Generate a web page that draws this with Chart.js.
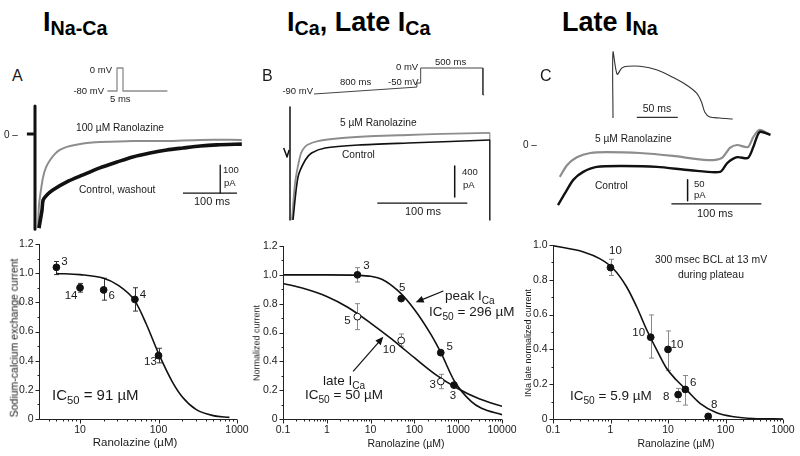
<!DOCTYPE html>
<html>
<head>
<meta charset="utf-8">
<script src="https://cdn.jsdelivr.net/npm/chart.js@4.4.1/dist/chart.umd.min.js"></script>
<style>
body { margin: 0; background: #fff; }
#fig { position: relative; width: 800px; height: 456px; overflow: hidden; background: #fff;
  font-family: "Liberation Sans", Arial, Helvetica, sans-serif; color: #1a1a1a; }
#fig canvas { position: absolute; }
.t { position: absolute; white-space: nowrap; line-height: 1; }
.s { font-size: 0.73em; vertical-align: -0.22em; }
.ss { font-size: 0.75em; vertical-align: -0.35em; }
</style>
</head>
<body>
<div id="fig"></div>
<script>
// ---- A: Na/Ca exchange current (time in ms, current in pA) ----
const aProtoT = [-8, 0, 0, 5, 5, 42];
const aProtoV = [-80, -80, 0, 0, -80, -80];
const aRanoT = [5.6, 7.4, 11, 15, 20, 28, 37, 46, 59, 74, 96, 120, 181, 244, 306, 383];
const aRanoI = [-336, -254, -200, -154, -121, -93, -71, -57, -46, -39, -32, -29, -25, -25, -21, -21];
const aCtrlT = [7.4, 9.3, 13, 15, 22, 33, 59, 89, 120, 152, 181, 213, 244, 274, 306, 337, 383];
const aCtrlI = [-336, -314, -271, -236, -218, -200, -171, -146, -121, -100, -82, -68, -57, -50, -43, -39, -36];
const aPreT = [-15, -2];
const aPreI = [0, 0];
const aArtT = [0, 0];
const aArtI = [100, -340];
const aVBarT = [343, 343];
const aVBarI = [-111, -211];
const aHBarT = [274, 374];
const aHBarI = [-211, -211];

// ---- B: ICa ----
const bProtoT = [0, 810, 810, 840, 840, 1330, 1330, 1340];
const bProtoV = [-90, -66, -52, -52, 0, 0, -93, -93];
const bPreT = [-7, -3.3, -1];
const bPreI = [0, -116, -26];
const bArtT = [0, 0];
const bArtI = [529, -929];
const bRanoT = [2.2, 5.6, 11, 14, 19, 31, 58, 94, 131, 169, 222];
const bRanoI = [-929, -452, -116, -26, 39, 90, 129, 155, 168, 181, 194];
const bCtrlT = [3.3, 8.9, 17, 24, 39, 76, 131, 178, 222];
const bCtrlI = [-929, -374, -155, -65, 0, 39, 65, 84, 103];
const bRanoDropT = [222, 222];
const bRanoDropI = [194, -929];
const bCtrlDropT = [222, 222];
const bCtrlDropI = [103, -929];
const bVBarT = [183, 183];
const bVBarI = [-232, -632];
const bHBarT = [97, 197];
const bHBarI = [-710, -710];

// ---- C: late INa ----
const cApT = [0, 0, 5, 11, 18, 33, 54, 73, 90, 102, 108, 112, 118, 130, 146];
const cApV = [-85, 40, -2, 10, 13, 13, 6, -8, -23, -38, -55, -74, -83, -85, -87];
const cApBarT = [29, 79];
const cApBarV = [-84, -84];
const cRanoT = [2, 10, 21, 36, 54, 91, 128, 166, 182, 191, 199, 211, 217, 224, 236];
const cRanoI = [-76, -48, -29, -19, -17, -19, -26, -36, -31, -7, 0, -5, 19, 36, 24];
const cCtrlT = [0, 8, 17, 28, 43, 72, 110, 147, 180, 188, 199, 211, 217, 224, 236];
const cCtrlI = [-143, -114, -83, -64, -52, -50, -52, -60, -64, -43, -29, -31, -5, 31, 24];
const cVBarT = [144, 144];
const cVBarI = [-83, -133];
const cHBarT = [126, 226];
const cHBarI = [-140, -140];

// ---- dose-response data (Ranolazine, uM) ----
const ncxConc = [5, 10, 20, 50, 100];
const ncxMean = [1.04, 0.90, 0.885, 0.82, 0.435];
const ncxLo = [0.99, 0.87, 0.815, 0.74, 0.385];
const ncxHi = [1.08, 0.93, 0.965, 0.90, 0.485];
const ncxN = ['3', '14', '6', '4', '13'];
const ncxFitX = [5, 10, 20, 30, 50, 70, 100, 150, 200, 300, 500, 800];
const ncxFitY = [0.998, 0.99, 0.965, 0.92, 0.81, 0.65, 0.45, 0.255, 0.153, 0.066, 0.023, 0.011];

const peakConc = [5, 50, 400, 800];
const peakMean = [1.0, 0.835, 0.46, 0.235];
const peakLo = [0.95, null, null, null];
const peakHi = [1.05, null, null, null];
const peakN = ['3', '5', '5', '3'];
const lateConc = [5, 50, 400];
const lateMean = [0.71, 0.545, 0.26];
const lateLo = [0.62, 0.505, 0.21];
const lateHi = [0.80, 0.59, 0.31];
const lateN = ['5', '10', '3'];
const peakFitX = [0.1, 1, 5, 10, 18, 42, 100, 240, 410, 830, 2000, 3400, 10000];
const peakFitY = [1.0, 1.0, 0.997, 0.99, 0.97, 0.89, 0.76, 0.585, 0.455, 0.26, 0.12, 0.074, 0.03];
const lateFitX = [0.1, 0.3, 1, 3, 10, 30, 50, 100, 300, 1000, 3000, 10000];
const lateFitY = [0.94, 0.905, 0.85, 0.775, 0.665, 0.555, 0.50, 0.425, 0.31, 0.21, 0.14, 0.088];

const inaConc = [1, 5, 10, 15, 20, 50];
const inaMean = [0.87, 0.47, 0.40, 0.14, 0.17, 0.015];
const inaLo = [0.825, 0.35, 0.28, 0.10, 0.08, 0.0];
const inaHi = [0.918, 0.598, 0.506, 0.176, 0.25, 0.03];
const inaN = ['10', '10', '10', '8', '6', '8'];
const inaFitX = [0.1, 0.34, 0.66, 1.1, 1.9, 2.85, 4.3, 6.3, 9.5, 14, 21, 36, 70, 140, 300, 1000];
const inaFitY = [0.996, 0.96, 0.92, 0.866, 0.76, 0.645, 0.51, 0.40, 0.29, 0.224, 0.167, 0.09, 0.036, 0.013, 0.003, 0];

// tick labels
const yTicks12 = [0, 0.2, 0.4, 0.6, 0.8, 1.0, 1.2];
const yLabels12 = ['0', '0.2', '0.4', '0.6', '0.8', '1.0', '1.2'];
const yTicks10 = [0, 0.2, 0.4, 0.6, 0.8, 1.0];
const yLabels10 = ['0', '0.2', '0.4', '0.6', '0.8', '1.0'];
const ncxXTicks = [10, 100, 1000];
const ncxXLabels = ['10', '100', '1000'];
const caXTicks = [0.1, 1, 10, 100, 1000, 10000];
const caXLabels = ['0.1', '1', '10', '100', '1000', '10000'];
const inaXTicks = [0.1, 1, 10, 100, 1000];
const inaXLabels = ['0.1', '1', '10', '100', '1000'];

// label placement (pixels from point) and arrows (data units)
const ncxNOff = [[8, -6], [-9, 8], [8, 6], [8, -5], [-8, 6]];
const peakNOff = [[9, -9], [1, -11], [9, -6], [-1, 11]];
const lateNOff = [[-10, 4], [-12, 9], [-8, 3]];
const inaNOff = [[5, -17], [-12, -4], [9, -5], [-12, 2], [8, -7], [6, -12]];
const caArrows = [{from: [457, 0.888], to: [107, 0.81]}, {from: [4.0, 0.33], to: [19.5, 0.57]}];

const FONT = '"Liberation Sans", Arial, Helvetica, sans-serif';
const GRAY = '#8d8d8d';
const INK = '#111';
const fig = document.getElementById('fig');

function makeCanvas(l, t, w, h) {
  const c = document.createElement('canvas');
  c.width = w; c.height = h;
  c.style.left = l + 'px'; c.style.top = t + 'px';
  c.style.width = w + 'px'; c.style.height = h + 'px';
  fig.appendChild(c);
  return c;
}

function pts(xs, ys) {
  return xs.map((v, i) => ({x: v, y: ys[i]}));
}

function line(xs, ys, color, width, tension) {
  return {data: pts(xs, ys), borderColor: color, borderWidth: width, showLine: true,
    pointRadius: 0, tension: tension || 0, borderJoinStyle: 'round'};
}

// xCal / yCal: [page pixel of zero, pixels per unit]
function traceChart(l, t, w, h, xCal, yCal, datasets) {
  const c = makeCanvas(l, t, w, h);
  return new Chart(c, {
    type: 'scatter',
    data: {datasets: datasets},
    options: {
      responsive: false, animation: false, events: [],
      layout: {padding: 0},
      plugins: {legend: {display: false}, tooltip: {enabled: false}},
      scales: {
        x: {type: 'linear', display: false, min: (l - xCal[0]) / xCal[1], max: (l + w - xCal[0]) / xCal[1]},
        y: {type: 'linear', display: false, min: (yCal[0] - t - h) / yCal[1], max: (yCal[0] - t) / yCal[1]}
      }
    }
  });
}

function axesPlugin(cfg) {
  return {
    id: 'sciAxes',
    beforeDatasetsDraw(chart) {
      const ctx = chart.ctx, x = chart.scales.x, y = chart.scales.y;
      ctx.save();
      ctx.lineWidth = 1;
      chart.data.datasets.forEach(ds => {
        if (!ds.errLo) return;
        ctx.strokeStyle = ds.errColor;
        ds.data.forEach((p, i) => {
          if (ds.errLo[i] == null) return;
          const px = Math.round(x.getPixelForValue(p.x)) + 0.5;
          const y1 = y.getPixelForValue(ds.errLo[i]);
          const y2 = y.getPixelForValue(ds.errHi[i]);
          ctx.beginPath();
          ctx.moveTo(px, y1); ctx.lineTo(px, y2);
          ctx.moveTo(px - 2.5, y1); ctx.lineTo(px + 2.5, y1);
          ctx.moveTo(px - 2.5, y2); ctx.lineTo(px + 2.5, y2);
          ctx.stroke();
        });
      });
      ctx.restore();
    },
    afterDatasetsDraw(chart) {
      const ctx = chart.ctx, x = chart.scales.x, y = chart.scales.y;
      ctx.save();
      ctx.fillStyle = '#1a1a1a';
      ctx.font = '11.5px ' + FONT;
      ctx.textAlign = 'center';
      ctx.textBaseline = 'middle';
      chart.data.datasets.forEach(ds => {
        if (!ds.nLabels) return;
        ds.data.forEach((p, i) => {
          ctx.fillText(ds.nLabels[i], x.getPixelForValue(p.x) + ds.nOffsets[i][0],
            y.getPixelForValue(p.y) + ds.nOffsets[i][1]);
        });
      });
      (cfg.arrows || []).forEach(a => {
        const x0 = x.getPixelForValue(a.from[0]), y0 = y.getPixelForValue(a.from[1]);
        const x1 = x.getPixelForValue(a.to[0]), y1 = y.getPixelForValue(a.to[1]);
        const ang = Math.atan2(y1 - y0, x1 - x0);
        const c = Math.cos(ang), s = Math.sin(ang);
        ctx.strokeStyle = INK; ctx.fillStyle = INK; ctx.lineWidth = 1.2;
        ctx.beginPath(); ctx.moveTo(x0, y0);
        ctx.lineTo(x1 - 5 * c, y1 - 5 * s); ctx.stroke();
        ctx.beginPath();
        ctx.moveTo(x1, y1);
        ctx.lineTo(x1 - 8 * c + 3.5 * s, y1 - 8 * s - 3.5 * c);
        ctx.lineTo(x1 - 8 * c - 3.5 * s, y1 - 8 * s + 3.5 * c);
        ctx.closePath(); ctx.fill();
      });
      ctx.restore();
    },
    afterDraw(chart) {
      const ctx = chart.ctx, a = chart.chartArea, x = chart.scales.x, y = chart.scales.y;
      const L = Math.round(a.left) + 0.5, B = Math.round(a.bottom) + 0.5;
      ctx.save();
      ctx.strokeStyle = '#222';
      ctx.lineWidth = 1;
      ctx.beginPath();
      ctx.moveTo(L, a.top); ctx.lineTo(L, B); ctx.lineTo(a.right, B);
      cfg.yTicks.forEach(v => {
        const py = Math.round(y.getPixelForValue(v)) + 0.5;
        ctx.moveTo(L - 4, py); ctx.lineTo(L, py);
      });
      for (let v = y.min + 0.1; v < y.max; v += 0.2) {
        const py = Math.round(y.getPixelForValue(v)) + 0.5;
        ctx.moveTo(L - 2, py); ctx.lineTo(L, py);
      }
      cfg.xTicks.forEach(v => {
        const px = Math.round(x.getPixelForValue(v)) + 0.5;
        ctx.moveTo(px, B); ctx.lineTo(px, B + 4);
      });
      const d0 = Math.floor(Math.log10(x.min)), d1 = Math.ceil(Math.log10(x.max));
      for (let d = d0; d < d1; d++) {
        for (let m = 2; m <= 9; m++) {
          const v = m * Math.pow(10, d);
          if (v <= x.min * 1.001 || v >= x.max) continue;
          const px = Math.round(x.getPixelForValue(v)) + 0.5;
          ctx.moveTo(px, B); ctx.lineTo(px, B + 2);
        }
      }
      ctx.stroke();
      ctx.fillStyle = '#1a1a1a';
      ctx.font = '10.5px ' + FONT;
      ctx.textAlign = 'right';
      ctx.textBaseline = 'middle';
      cfg.yTicks.forEach((v, i) => ctx.fillText(cfg.yLabels[i], L - 6, y.getPixelForValue(v)));
      ctx.textAlign = 'center';
      ctx.textBaseline = 'top';
      cfg.xTicks.forEach((v, i) => ctx.fillText(cfg.xLabels[i], x.getPixelForValue(v), B + 5));
      ctx.restore();
    }
  };
}

function dots(xs, ys, lo, hi, n, off, fill, errColor) {
  return {data: pts(xs, ys), showLine: false, pointRadius: 3.4, pointBackgroundColor: fill,
    pointBorderColor: INK, pointBorderWidth: 1, order: 0,
    errLo: lo, errHi: hi, errColor: errColor, nLabels: n, nOffsets: off};
}

function fit(xs, ys) {
  return {data: pts(xs, ys), showLine: true, pointRadius: 0, borderColor: INK, borderWidth: 1.6,
    cubicInterpolationMode: 'monotone', order: 1};
}

// area: [left, top, right, bottom] of the plot in page pixels
function doseChart(l, t, w, h, area, xRange, yRange, datasets, cfg) {
  const c = makeCanvas(l, t, w, h);
  return new Chart(c, {
    type: 'scatter',
    data: {datasets: datasets},
    options: {
      responsive: false, animation: false, events: [],
      layout: {padding: {left: area[0] - l, top: area[1] - t, right: l + w - area[2], bottom: t + h - area[3]}},
      plugins: {legend: {display: false}, tooltip: {enabled: false}},
      scales: {
        x: {type: 'logarithmic', display: false, min: xRange[0], max: xRange[1]},
        y: {type: 'linear', display: false, min: yRange[0], max: yRange[1]}
      }
    },
    plugins: [axesPlugin(cfg)]
  });
}

// ---- top row: protocols and current traces ----
traceChart(60, 55, 120, 45, [117, 1.2], [68, 0.2875], [
  line(aProtoT, aProtoV, GRAY, 1.3)
]);
traceChart(0, 100, 265, 132, [35, 0.54], [134, 0.28], [
  line(aVBarT, aVBarI, INK, 1.3),
  line(aHBarT, aHBarI, INK, 1.3),
  line(aArtT, aArtI, INK, 3),
  line(aPreT, aPreI, INK, 3),
  line(aCtrlT, aCtrlI, INK, 3.6, 0.25),
  line(aRanoT, aRanoI, GRAY, 2, 0.25)
]);

traceChart(290, 50, 220, 52, [314, 0.127], [68, 0.289], [
  line(bProtoT, bProtoV, '#444', 1)
]);
traceChart(270, 100, 240, 132, [290, 0.9], [148, 0.0775], [
  line(bVBarT, bVBarI, INK, 1.5),
  line(bHBarT, bHBarI, INK, 1.3),
  line(bArtT, bArtI, INK, 1.5),
  line(bPreT, bPreI, INK, 1.5),
  line(bCtrlDropT, bCtrlDropI, INK, 1.2),
  line(bCtrlT, bCtrlI, INK, 1.6, 0.25),
  line(bRanoDropT, bRanoDropI, GRAY, 1.2),
  line(bRanoT, bRanoI, GRAY, 1.8, 0.25)
]);

traceChart(600, 45, 150, 80, [613, 0.82], [52 + 40 * 0.528, 0.528], [
  line(cApBarT, cApBarV, '#333', 1.2),
  line(cApT, cApV, '#333', 1.1, 0.3)
]);
traceChart(535, 110, 255, 115, [558, 0.9], [145, 0.42], [
  line(cVBarT, cVBarI, INK, 1.5),
  line(cHBarT, cHBarI, INK, 1.3),
  line(cCtrlT, cCtrlI, INK, 2.4, 0.25),
  line(cRanoT, cRanoI, GRAY, 2.2, 0.25)
]);

// ---- bottom row: concentration-response ----
doseChart(0, 232, 260, 224, [39, 244, 237, 419], [3, 1000], [0, 1.2], [
  dots(ncxConc, ncxMean, ncxLo, ncxHi, ncxN, ncxNOff, INK, '#333'),
  fit(ncxFitX, ncxFitY)
], {yTicks: yTicks12, yLabels: yLabels12, xTicks: ncxXTicks, xLabels: ncxXLabels});

doseChart(262, 232, 270, 224, [283, 246, 502, 419], [0.1, 10000], [0, 1.2], [
  dots(peakConc, peakMean, peakLo, peakHi, peakN, peakNOff, INK, '#888'),
  dots(lateConc, lateMean, lateLo, lateHi, lateN, lateNOff, '#fff', '#888'),
  fit(peakFitX, peakFitY),
  fit(lateFitX, lateFitY)
], {yTicks: yTicks12, yLabels: yLabels12, xTicks: caXTicks, xLabels: caXLabels, arrows: caArrows});

doseChart(530, 232, 270, 224, [553, 245, 783, 419], [0.1, 1000], [0, 1.0], [
  dots(inaConc, inaMean, inaLo, inaHi, inaN, inaNOff, INK, '#888'),
  fit(inaFitX, inaFitY)
], {yTicks: yTicks10, yLabels: yLabels10, xTicks: inaXTicks, xLabels: inaXLabels});

// ---- text ----
function txt(html, x, base, size, align, extra) {
  const d = document.createElement('div');
  d.className = 't';
  d.innerHTML = html;
  d.style.fontSize = size + 'px';
  d.style.top = (base - 0.85 * size).toFixed(1) + 'px';
  d.style.left = x + 'px';
  if (align === 'c') d.style.transform = 'translateX(-50%)';
  if (align === 'r') d.style.transform = 'translateX(-100%)';
  if (extra) d.style.cssText += extra;
  fig.appendChild(d);
}

function vtxt(text, cx, cy, size) {
  const d = document.createElement('div');
  d.className = 't';
  d.textContent = text;
  d.style.fontSize = size + 'px';
  d.style.left = cx + 'px';
  d.style.top = cy + 'px';
  d.style.transform = 'translate(-50%, -50%) rotate(-90deg)';
  fig.appendChild(d);
}

const bold = 'font-weight:bold;color:#000;';
txt('I<span class="s">Na-Ca</span>', 43, 32, 27, 'l', bold);
txt('I<span class="s">Ca</span>, Late I<span class="s">Ca</span>', 287, 32, 27, 'l', bold);
txt('Late I<span class="s">Na</span>', 562, 32, 27, 'l', bold);
txt('A', 12, 82, 16);
txt('B', 262, 82, 16);
txt('C', 540, 82, 16);

txt('0 mV', 112, 73, 9.5, 'r');
txt('-80 mV', 104, 94.5, 9.5, 'r');
txt('5 ms', 110, 102.5, 9.5);
txt('0 \u2013', 4, 138, 10);
txt('100 \u00b5M Ranolazine', 76, 131.5, 10.2);
txt('Control, washout', 79, 193.5, 10.2);
txt('100', 223, 173, 9.5);
txt('pA', 224, 186, 9.5);
txt('100 ms', 212, 205, 11, 'c');

txt('-90 mV', 313, 94.5, 9.5, 'r');
txt('800 ms', 340, 85.5, 9.5);
txt('-50 mV', 388, 85.5, 9.5);
txt('0 mV', 396, 70.5, 9.5);
txt('500 ms', 435, 65.5, 9.5);
txt('5 \u00b5M Ranolazine', 340, 126.5, 10.2);
txt('Control', 342, 158.5, 10.2);
txt('400', 462, 175, 9.5);
txt('pA', 463, 188, 9.5);
txt('100 ms', 423, 215, 11, 'c');

txt('50 ms', 657, 112, 10.5, 'c');
txt('0 \u2013', 523, 148.5, 10);
txt('5 \u00b5M Ranolazine', 595, 142.5, 10.2);
txt('Control', 595, 189.5, 10.2);
txt('50', 694, 187, 9.5);
txt('pA', 694, 198, 9.5);
txt('100 ms', 715, 217.5, 11, 'c');

vtxt('Sodium-calcium exchange current', 14, 338, 10.5);
txt('Ranolazine (\u00b5M)', 135, 447, 11.5, 'c');
txt('IC<span class="ss">50</span> = 91 \u00b5M', 52, 400, 15);

vtxt('Normalized current', 257, 343, 9);
txt('Ranolazine (\u00b5M)', 406, 447, 10.5, 'c');
txt('peak I<span class="ss">Ca</span>', 445, 300, 13.5);
txt('IC<span class="ss">50</span> = 296 \u00b5M', 429, 316, 13.5);
txt('late I<span class="ss">Ca</span>', 323, 385, 13.5);
txt('IC<span class="ss">50</span> = 50 \u00b5M', 305, 399, 13.5);

vtxt('INa late normalized current', 528, 343, 9);
txt('Ranolazine (\u00b5M)', 676, 447, 10.5, 'c');
txt('IC<span class="ss">50</span> = 5.9 \u00b5M', 570, 400, 13.5);
txt('300 msec BCL at 13 mV', 711, 263.5, 10.4, 'c');
txt('during plateau', 711, 278.5, 10.4, 'c');
</script>
</body>
</html>
